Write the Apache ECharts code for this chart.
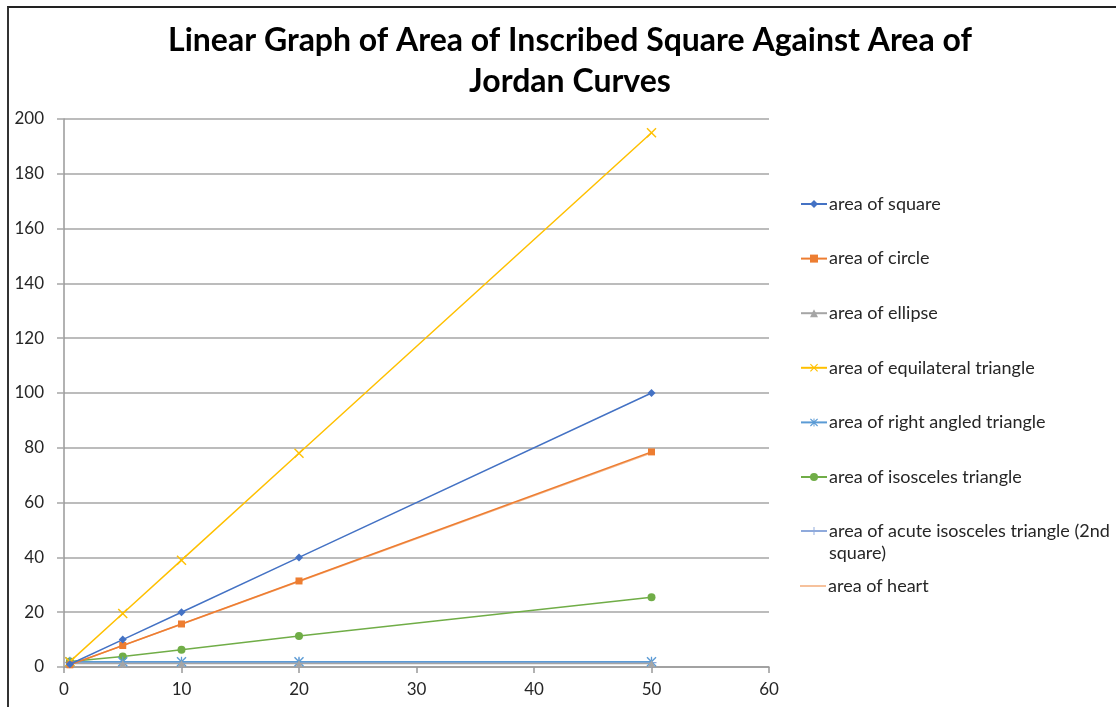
<!DOCTYPE html>
<html>
<head>
<meta charset="utf-8">
<script src="https://cdn.jsdelivr.net/npm/echarts@6/dist/echarts.min.js"></script>
<style>
  html, body { margin: 0; padding: 0; background: #fff; }
  #chart { position: absolute; left: 0; top: 0; width: 1116px; height: 707px; }
  #frame { position: absolute; left: 7px; top: 6px; width: 1200px; height: 800px;
           border-left: 2px solid #333; border-top: 2px solid #222; pointer-events: none; }
</style>
</head>
<body>
<div id="chart"></div>
<div id="frame"></div>
<script>
const titleText = 'Linear Graph of Area of Inscribed Square Against Area of\nJordan Curves';
const xValues = [0.5, 5, 10, 20, 50];
const seriesNames = [
  'area of square',
  'area of circle',
  'area of ellipse',
  'area of equilateral triangle',
  'area of right angled triangle',
  'area of isosceles triangle',
  'area of acute isosceles triangle (2nd square)',
  'area of heart'
];
const squareValues = [1, 10, 20, 40, 100];
const circleValues = [0.8, 7.85, 15.7, 31.4, 78.5];
const ellipseValues = [1.3, 1.3, 1.3, 1.3, 1.3];
const equilateralValues = [1.95, 19.5, 39, 78, 195];
const rightAngledValues = [1.9, 1.9, 1.9, 1.9, 1.9];
const isoscelesValues = [2, 3.8, 6.3, 11.3, 25.5];
const acuteValues = [1.6, 1.6, 1.6, 1.6, 1.6];
const heartValues = [0.8, 7.8, 15.6, 31.2, 78.2];
const xTicks = [0, 10, 20, 30, 40, 50, 60];
const yTicks = [0, 20, 40, 60, 80, 100, 120, 140, 160, 180, 200];

const allValues = [squareValues, circleValues, ellipseValues, equilateralValues,
  rightAngledValues, isoscelesValues, acuteValues, heartValues];
const colors = ['#4472C4', '#ED7D31', '#A5A5A5', '#FFC000', '#5B9BD5', '#70AD47', '#8FAADC', '#F4B183'];
const xSym = 'path://M0,1L1,0L5,4L9,0L10,1L6,5L10,9L9,10L5,6L1,10L0,9L4,5Z';
const starSym = 'path://M0,1L1,0L5,4L9,0L10,1L6,5L10,9L9,10L5,6L1,10L0,9L4,5Z M4.4,0L5.6,0L5.6,10L4.4,10Z';
const plusSym = 'path://M4.4,0L5.6,0L5.6,10L4.4,10Z M0,4.4L10,4.4L10,5.6L0,5.6Z';
const dashSym = 'path://M0,4.2L10,4.2L10,5.8L0,5.8Z';
const symbols = ['diamond', 'rect', 'triangle', xSym, starSym, 'circle', plusSym, dashSym];
const symSizes = [8, 7, 7, 10, 10, 8, 10, 7];

const font = 'Lato, "Open Sans", sans-serif';

const series = seriesNames.map((name, i) => ({
  name: name,
  type: 'line',
  data: xValues.map((x, j) => [x, allValues[i][j]]),
  symbol: symbols[i],
  symbolSize: symSizes[i],
  symbolKeepAspect: true,
  showSymbol: true,
  color: colors[i],
  lineStyle: { width: 1.5, color: colors[i] },
  itemStyle: { color: colors[i] },
  z: 10 - i
}));

const legendCenters = [204, 258.6, 313.2, 367.8, 422.4, 477, 531, 586];
const legends = seriesNames.map((name, i) => {
  const twoLine = name.indexOf('(2nd square)') >= 0;
  const isHeart = name === 'area of heart';
  return {
    data: [isHeart ? { name: name, icon: 'path://M0,0L26,0L26,1.6L0,1.6Z' } : name],
    orient: 'vertical',
    left: 800,
    top: twoLine ? legendCenters[i] - 33 : legendCenters[i] - 11,
    padding: 0,
    itemWidth: 26,
    itemHeight: 10,
    itemGap: 0,
    formatter: n => twoLine ? '\n' + n.replace(' square)', '\nsquare)') : n,
    textStyle: { fontFamily: font, fontSize: 18, color: '#262626', lineHeight: 22,
                 padding: [0, 0, 0, -3] },
    selectedMode: false
  };
});

const chart = echarts.init(document.getElementById('chart'), null, { renderer: 'canvas' });
chart.setOption({
  backgroundColor: '#fff',
  animation: false,
  title: {
    text: titleText,
    left: 565,
    textAlign: 'center',
    top: 15,
    textStyle: { fontFamily: font, fontSize: 32, fontWeight: 'bold', color: '#000', lineHeight: 41 }
  },
  legend: legends,
  grid: { left: 64, right: 347, top: 119, bottom: 40, containLabel: false },
  xAxis: {
    type: 'value',
    min: xTicks[0], max: xTicks[xTicks.length - 1], interval: 10,
    axisLine: { lineStyle: { color: '#999', width: 1.5 } },
    axisTick: { show: true, length: 6, lineStyle: { color: '#999', width: 1.5 } },
    splitLine: { show: false },
    axisLabel: { fontFamily: font, fontSize: 17, color: '#262626', margin: 14 }
  },
  yAxis: {
    type: 'value',
    min: yTicks[0], max: yTicks[yTicks.length - 1], interval: 20,
    axisLine: { show: true, lineStyle: { color: '#999', width: 1.5 } },
    axisTick: { show: true, length: 7, lineStyle: { color: '#A6A6A6', width: 1.5 } },
    splitLine: { show: true, lineStyle: { color: '#A6A6A6', width: 1.5 } },
    axisLabel: { fontFamily: font, fontSize: 17, color: '#262626', margin: 20 }
  },
  series: series
});
</script>
</body>
</html>
